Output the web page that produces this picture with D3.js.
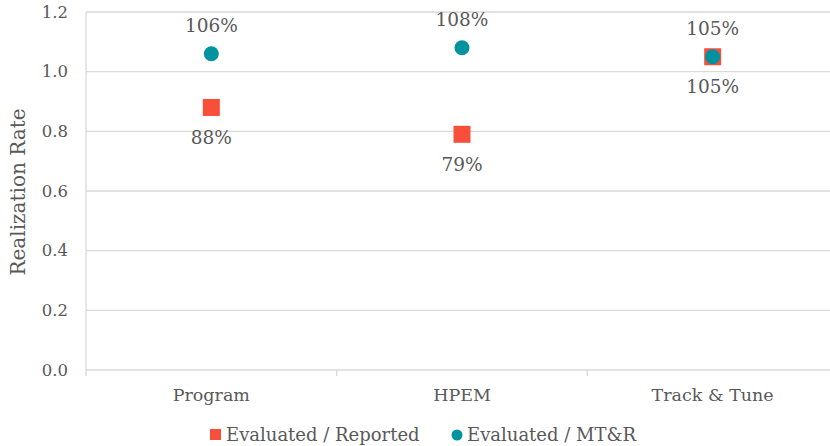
<!DOCTYPE html>
<html lang="en">
<head>
  <title>Realization Rate</title>
  <script src="https://d3js.org/d3.v7.min.js" charset="utf-8"></script>
  <style>
    body { margin: 0; background: #fff; }
    text { font-family: Georgia, "DejaVu Serif", serif; fill: #595959; }
  </style>
</head>
<body>
  <script>
    // chart data
    var categories = ["Program", "HPEM", "Track & Tune"];
    var reported = [0.88, 0.79, 1.05];   // Evaluated / Reported
    var mtr = [1.06, 1.08, 1.05];        // Evaluated / MT&R
    var yTicks = [0, 0.2, 0.4, 0.6, 0.8, 1.0, 1.2];
    var seriesNames = ["Evaluated / Reported", "Evaluated / MT&R"];

    var w = 830, h = 446;
    var margin = {top: 12, right: -8, bottom: 76, left: 86};

    var svg = d3.select("body").append("svg")
      .attr("width", w)
      .attr("height", h);

    var x = d3.scaleBand()
      .domain(categories)
      .range([margin.left, w - margin.right]);

    var y = d3.scaleLinear()
      .domain([0, 1.2])
      .range([h - margin.bottom, margin.top]);

    // gridlines
    svg.append("g").selectAll("line")
      .data(yTicks)
      .enter().append("line")
      .attr("x1", margin.left)
      .attr("x2", w)
      .attr("y1", function(d) { return y(d); })
      .attr("y2", function(d) { return y(d); })
      .attr("stroke", "#d9d9d9")
      .attr("stroke-width", 1.3);

    // left axis line
    svg.append("line")
      .attr("x1", margin.left).attr("x2", margin.left)
      .attr("y1", y(1.2)).attr("y2", y(0) + 6)
      .attr("stroke", "#d9d9d9").attr("stroke-width", 1.3);

    // category boundary ticks
    svg.append("g").selectAll("line")
      .data(categories.slice(1))
      .enter().append("line")
      .attr("x1", function(d) { return x(d); })
      .attr("x2", function(d) { return x(d); })
      .attr("y1", y(0)).attr("y2", y(0) + 6)
      .attr("stroke", "#d9d9d9").attr("stroke-width", 1.3);

    // y tick labels
    svg.append("g").selectAll("text")
      .data(yTicks)
      .enter().append("text")
      .attr("x", 68)
      .attr("y", function(d) { return y(d); })
      .attr("dy", "0.35em")
      .attr("text-anchor", "end")
      .style("font-size", "16.5px")
      .text(function(d) { return d3.format(".1f")(d); });

    // y axis title
    svg.append("text")
      .attr("transform", "translate(25,192) rotate(-90)")
      .attr("text-anchor", "middle")
      .style("font-size", "20px")
      .text("Realization Rate");

    // category labels
    svg.append("g").selectAll("text")
      .data(categories)
      .enter().append("text")
      .attr("x", function(d) { return x(d) + x.bandwidth() / 2; })
      .attr("y", 401)
      .attr("text-anchor", "middle")
      .style("font-size", "17.5px")
      .text(function(d) { return d; });

    var cx = function(d, i) { return x(categories[i]) + x.bandwidth() / 2; };
    var sq = 17;

    // squares: Evaluated / Reported
    svg.append("g").selectAll("rect")
      .data(reported)
      .enter().append("rect")
      .attr("x", function(d, i) { return cx(d, i) - sq / 2; })
      .attr("y", function(d) { return y(d) - sq / 2; })
      .attr("width", sq).attr("height", sq)
      .attr("fill", "#f84f3b");

    // circles: Evaluated / MT&R
    svg.append("g").selectAll("circle")
      .data(mtr)
      .enter().append("circle")
      .attr("cx", cx)
      .attr("cy", function(d) { return y(d); })
      .attr("r", 7.5)
      .attr("fill", "#00929f");

    var pct = function(d) { return Math.round(d * 100) + "%"; };

    // labels below squares
    svg.append("g").selectAll("text")
      .data(reported)
      .enter().append("text")
      .attr("x", cx)
      .attr("y", function(d) { return y(d) + 30; })
      .attr("dy", "0.35em")
      .attr("text-anchor", "middle")
      .style("font-size", "18.5px")
      .text(pct);

    // labels above circles
    svg.append("g").selectAll("text")
      .data(mtr)
      .enter().append("text")
      .attr("x", cx)
      .attr("y", function(d) { return y(d) - 28; })
      .attr("dy", "0.35em")
      .attr("text-anchor", "middle")
      .style("font-size", "18.5px")
      .text(pct);

    // legend
    var lg = svg.append("g");
    lg.append("rect")
      .attr("x", 210).attr("y", 429)
      .attr("width", 11).attr("height", 11)
      .attr("fill", "#f84f3b");
    lg.append("text")
      .attr("x", 226).attr("y", 435).attr("dy", "0.35em")
      .style("font-size", "18px")
      .text(seriesNames[0]);
    lg.append("circle")
      .attr("cx", 457).attr("cy", 435).attr("r", 5.5)
      .attr("fill", "#00929f");
    lg.append("text")
      .attr("x", 467).attr("y", 435).attr("dy", "0.35em")
      .style("font-size", "18px")
      .text(seriesNames[1]);
  </script>
</body>
</html>
